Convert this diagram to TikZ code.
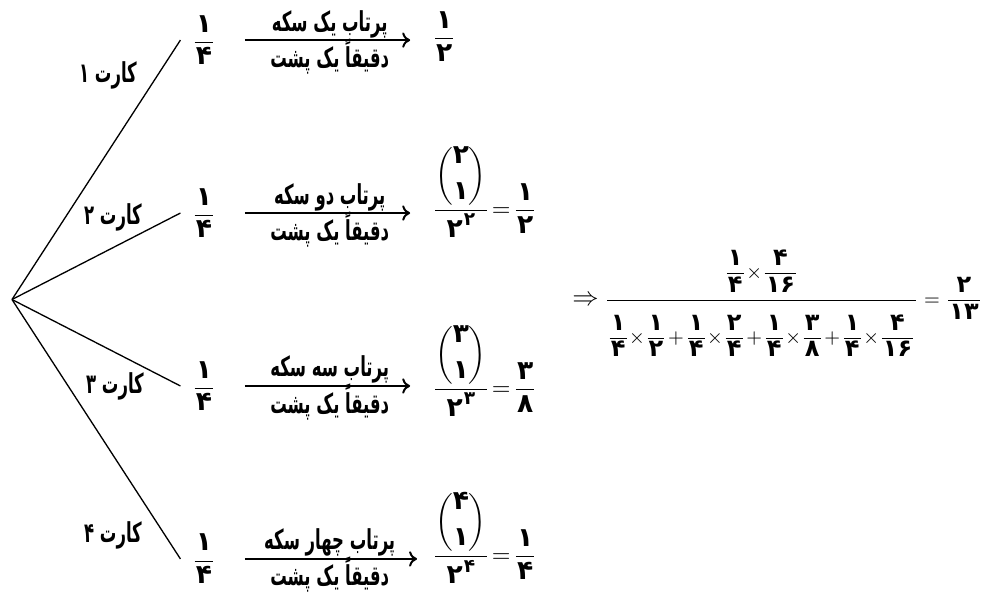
\documentclass[tikz,border=0pt]{standalone}
\usepackage{amsmath}
\usepackage{fontspec}
\newfontfamily\fa[Script=Arabic, FakeStretch=0.6]{DejaVu Sans}
\newfontfamily\fadig[Script=Arabic, Scale=1.15]{DejaVu Sans}
\TeXXeTstate=1
\usetikzlibrary{positioning, arrows.meta}
\newcommand{\fs}[1]{\text{\fadig\bfseries #1}}
\newcommand{\fd}[1]{\text{\kern0.5pt\fadig\bfseries #1\kern0.5pt}}
\newcommand{\pick}[1]{\begin{pmatrix}\fs{#1}\\[3.4pt]\fs{۱}\end{pmatrix}}
\newcommand{\rtl}[1]{\beginR #1\endR}

\begin{document}
\begin{tikzpicture}[x=0.016cm, y=-0.016cm, grow'=east,
    level distance=3.072cm, sibling distance=2.768cm]
\tikzset{every node/.style={font=\fontsize{10.5}{12.6}\selectfont}}
\tikzset{edge from parent/.style={draw, line width=0.6pt},
    edge from parent path={(\tikzparentnode.center) -- (\tikzchildnode.west)},
    prob/.style={inner xsep=0.18cm, inner ysep=0pt},
    card/.style={font=\fontsize{12.5}{14}\selectfont\fa\bfseries},
    res/.style={anchor=mid west, inner sep=0pt},
    toss/.style={-{To[length=3.6pt, width=7pt]}, line width=0.9pt, shorten <=0.28cm},
    over/.style={card, midway, above=0.6pt, inner sep=0pt},
    under/.style={card, midway, below=-1.2pt, inner sep=0pt}}
%\tikzset{every node/.style={draw=red}}
\useasboundingbox (0,0) rectangle (982,592);

\coordinate (root) at (12,299.5)
    child {node[prob] (q1) {$\dfrac{\fd{۱}}{\fd{۴}}$}}
    child {node[prob] (q2) {$\dfrac{\fd{۱}}{\fd{۴}}$}}
    child {node[prob] (q3) {$\dfrac{\fd{۱}}{\fd{۴}}$}}
    child {node[prob] (q4) {$\dfrac{\fd{۱}}{\fd{۴}}$}};

\node[card] (c1) at (108,75) {\rtl{کارت ۱}};
\node[card] (c2) at (113,217) {\rtl{کارت ۲}};
\node[card] (c3) at (115,386) {\rtl{کارت ۳}};
\node[card] (c4) at (113,535) {\rtl{کارت ۴}};

\node[res] (r1) at (432,40) {$\dfrac{\fd{۱}}{\fd{۲}}$};
\node[res] (r2) at (432,212)
    {$\thickmuskip=2mu\dfrac{\pick{۲}}{\fd{۲}^{\fs{۲}}}=\dfrac{\fd{۱}}{\fd{۲}}$};
\node[res] (r3) at (432,391)
    {$\thickmuskip=2mu\dfrac{\pick{۳}}{\fd{۲}^{\fs{۳}}}=\dfrac{\fd{۳}}{\fd{۸}}$};
\node[res] (r4) at (432,558)
    {$\thickmuskip=2mu\dfrac{\pick{۴}}{\fd{۲}^{\fs{۴}}}=\dfrac{\fd{۱}}{\fd{۴}}$};

\draw[toss, shorten >=0.35cm] (q1.east) -- (q1.east -| r1.west)
    node[over] {\rtl{پرتاب یک سکه}}
    node[under] {\rtl{دقیقاً یک پشت}};
\draw[toss, shorten >=0.35cm] (q2.east) -- (q2.east -| r2.west)
    node[over] {\rtl{پرتاب دو سکه}}
    node[under] {\rtl{دقیقاً یک پشت}};
\draw[toss, shorten >=0.35cm] (q3.east) -- (q3.east -| r3.west)
    node[over] {\rtl{پرتاب سه سکه}}
    node[under] {\rtl{دقیقاً یک پشت}};
\draw[toss, shorten >=0.24cm] (q4.east) -- (q4.east -| r4.west)
    node[over] {\rtl{پرتاب چهار سکه}}
    node[under] {\rtl{دقیقاً یک پشت}};

\node[res, font=\fontsize{9.5}{11}\selectfont] (total) at (572,301)
    {$\medmuskip=1mu\mbox{\fontsize{12.5}{14}\selectfont$\Rightarrow$}\;\dfrac{\rule[-8.8pt]{0pt}{8.8pt}\dfrac{\fd{۱}}{\fd{۴}}{\times}\dfrac{\fd{۴}}{\fd{۱۶}}}
    {\rule{0pt}{18pt}\dfrac{\fd{۱}}{\fd{۴}}{\times}\dfrac{\fd{۱}}{\fd{۲}}+\dfrac{\fd{۱}}{\fd{۴}}{\times}\dfrac{\fd{۲}}{\fd{۴}}
    +\dfrac{\fd{۱}}{\fd{۴}}{\times}\dfrac{\fd{۳}}{\fd{۸}}+\dfrac{\fd{۱}}{\fd{۴}}{\times}\dfrac{\fd{۴}}{\fd{۱۶}}}
    =\dfrac{\fd{۲}}{\fd{۱۳}}$};
\end{tikzpicture}
\end{document}
